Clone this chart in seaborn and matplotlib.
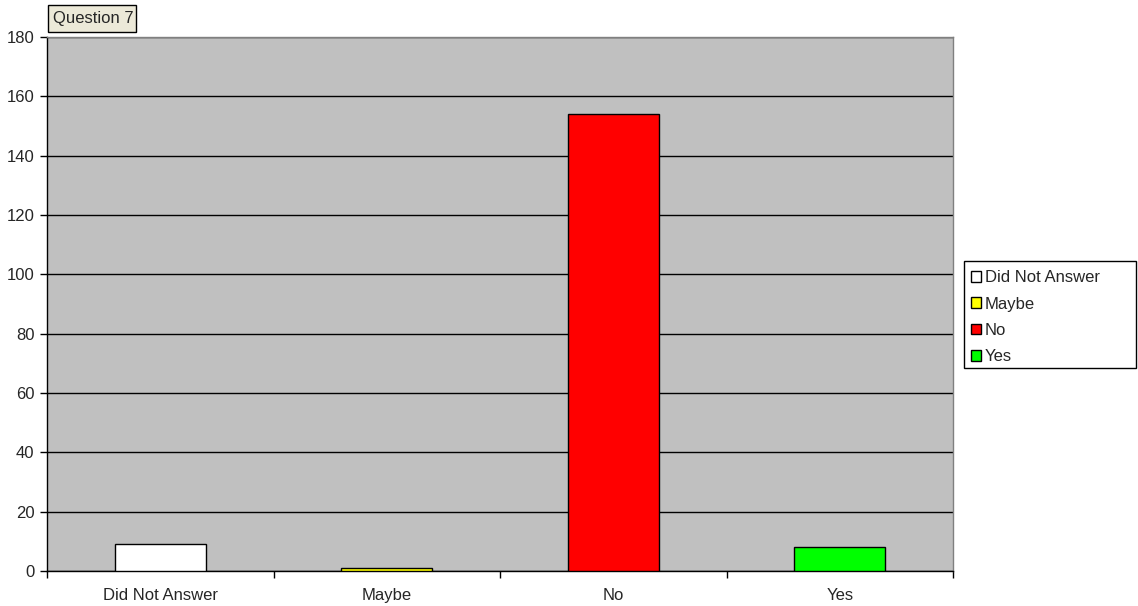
import matplotlib
matplotlib.use("Agg")
import matplotlib.pyplot as plt
from matplotlib.patches import Patch, Rectangle
import seaborn as sns
import numpy as np

categories = ["Did Not Answer", "Maybe", "No", "Yes"]
counts = [9, 1, 154, 8]
colors = ["#FFFFFF", "#FFFF00", "#FF0000", "#00FF00"]
y_ticks = [0, 20, 40, 60, 80, 100, 120, 140, 160, 180]
title = "Question 7"

sns.set_style("white")
plt.rcParams["font.family"] = ["Liberation Sans", "DejaVu Sans"]

W, H = 1138, 606
fig = plt.figure(figsize=(W / 100, H / 100), dpi=100)
ax = fig.add_axes([47 / W, 1 - 571 / H, 906 / W, 534 / H])
ax.set_facecolor("#C0C0C0")

sns.barplot(x=categories, y=counts, hue=categories, palette=colors,
            saturation=1, width=0.4, edgecolor="black", linewidth=1,
            legend=False, dodge=False, ax=ax, zorder=3)

ax.set_ylim(0, 180)
ax.set_xlim(-0.5, len(categories) - 0.5)
ax.set_yticks(y_ticks)
ax.set_yticklabels([str(v) for v in y_ticks], fontsize=12)
ax.yaxis.grid(True, color="black", linewidth=1, zorder=1)
ax.set_axisbelow(True)

# category labels at bar centres, tick marks on category boundaries
ax.set_xticks(range(len(categories)))
ax.set_xticklabels(categories, fontsize=12)
ax.tick_params(axis="x", which="major", length=0, pad=12)
ax.set_xticks(np.arange(-0.5, len(categories), 1.0), minor=True)
ax.tick_params(axis="x", which="minor", length=5, width=1, color="black", bottom=True)
ax.tick_params(axis="y", which="major", length=5, width=1, color="black", left=True, pad=4)
ax.set_xlabel("")
ax.set_ylabel("")

for side in ["left", "bottom"]:
    ax.spines[side].set_color("black")
    ax.spines[side].set_linewidth(1)
for side in ["top", "right"]:
    ax.spines[side].set_color("#808080")
    ax.spines[side].set_linewidth(1)
    ax.spines[side].set_visible(True)


def fig_rect(x0, y0, x1, y1, **kw):
    """Rectangle given in pixel coordinates measured from the top-left corner."""
    r = Rectangle((x0 / W, 1 - y1 / H), (x1 - x0) / W, (y1 - y0) / H,
                  transform=fig.transFigure, **kw)
    fig.patches.append(r)
    return r


# title box with a drop shadow
fig_rect(49, 6, 137, 33, facecolor="black", edgecolor="none", zorder=1)
fig_rect(48, 5, 136, 32, facecolor="#ECE9D8", edgecolor="black", linewidth=1, zorder=2)
fig.text(53 / W, 1 - 19 / H, title, fontsize=12, ha="left", va="center", zorder=3)

# legend box
fig_rect(964, 261, 1136, 368, facecolor="white", edgecolor="black", linewidth=1, zorder=1)
handles = [Patch(facecolor=c, edgecolor="black", linewidth=1, label=l)
           for c, l in zip(colors, categories)]
leg = fig.legend(handles=handles, loc="upper left",
                 bbox_to_anchor=(968 / W, 1 - 267 / H),
                 fontsize=12, frameon=False,
                 handlelength=0.6, handleheight=0.6, handletextpad=0.2,
                 labelspacing=0.68, borderpad=0.2, borderaxespad=0)
leg.set_zorder(3)

fig.savefig("out.png", dpi=100, facecolor="white")
